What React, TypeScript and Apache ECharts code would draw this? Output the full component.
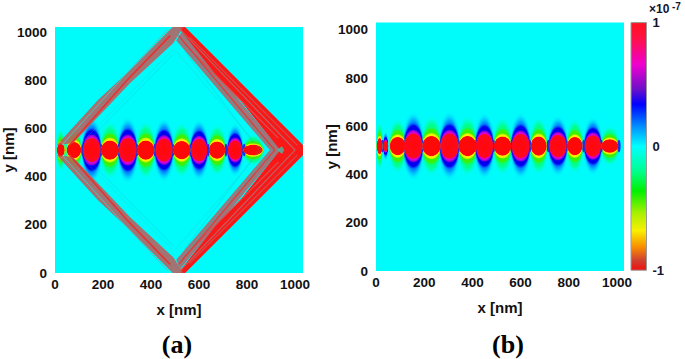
import React, { useEffect, useRef } from "react";
import * as echarts from "echarts";

const FONT = "'Liberation Sans', Arial, sans-serif";
const SERIF = "'Liberation Serif', 'Times New Roman', serif";
const CYAN = "#00fbfb";

const xTicks = [0, 200, 400, 600, 800, 1000];
const yTicks = [0, 200, 400, 600, 800, 1000];
const colorbarTicks = [-1, 0, 1];

// Colour bar stops, top (+1) to bottom (-1)
const colorbarStops: [number, string][] = [
  [0, "#ff1020"], [0.06, "#ff1040"], [0.17, "#f000d0"], [0.27, "#6a10c8"], [0.33, "#0000ff"],
  [0.42, "#0090ff"], [0.5, "#00ffff"], [0.6, "#00ff90"], [0.68, "#00f000"], [0.77, "#a8f000"],
  [0.84, "#f8f000"], [0.905, "#f89000"], [0.96, "#d04030"], [1, "#ee1010"],
];

// Lobes along the line: x [nm], half width [nm], half height [nm], kind (1 blue/magenta, 0 green/yellow)
const lobeAX = [24, 79, 153, 229, 303, 378, 454, 528, 600, 675, 750, 825, 940];
const lobeARx = [16, 30, 37, 37, 37, 36, 36, 36, 34, 34, 30, 40, 8];
const lobeARy = [30, 34, 50, 40, 50, 40, 48, 38, 46, 36, 40, 22, 8];
const lobeAKind = [0, 0, 1, 0, 1, 0, 1, 0, 1, 0, 1, 0, 0];
const lobeACentre = 510;
const gapAX = [116, 191, 266, 341, 416, 491, 564, 638, 712, 788];

const lobeBX = [15, 40, 90, 155, 230, 305, 380, 450, 525, 600, 675, 755, 825, 900, 970];
const lobeBRx = [12, 10, 33, 38, 38, 38, 37, 36, 36, 37, 33, 36, 32, 34, 35];
const lobeBRy = [34, 22, 38, 52, 42, 52, 42, 50, 40, 50, 40, 46, 38, 44, 28];
const lobeBKind = [0, 1, 0, 1, 0, 1, 0, 1, 0, 1, 0, 1, 0, 1, 0];
const lobeBCentre = 518;
const gapBX = [27, 122, 192, 268, 343, 415, 488, 563, 638, 715, 790, 862, 935, 1008];

// Diamond wavefront bands in panel (a): polygons of [x, y] in nm, with fill
const greyChevron: number[][] = [[505, 965], [895, 510], [505, 55], [522, 18], [940, 510], [529, 1002]];
const redChevron: number[][] = [
  [521, 1021], [542, 1021], [1033, 531], [1033, 489], [542, 0], [521, 0], [529, 20], [675, 203],
  [771, 302], [938, 510], [771, 718], [675, 817], [529, 1000],
];
const leftUpperBand: number[][] = [[8, 531], [179, 718], [312, 842], [490, 1021], [535, 1021], [492, 954], [312, 788], [246, 718], [75, 539]];
const leftLowerBand: number[][] = [[8, 489], [179, 302], [312, 178], [490, 0], [535, 0], [492, 66], [312, 232], [246, 302], [75, 481]];
const chevronTip: number[][] = [[925, 510], [945, 526], [955, 510], [945, 494]];

const bandPolygons = [greyChevron, redChevron, leftUpperBand, leftLowerBand, chevronTip];
const bandColors = ["rgba(190,90,95,0.8)", "#f81818", "rgba(190,90,90,0.85)", "rgba(190,90,90,0.85)", "rgba(70,190,170,0.8)"];

// Thin stripes: polyline, colour, width
const stripeLines: number[][][] = [
  [[60, 530], [300, 800], [480, 985]], [[60, 490], [300, 220], [480, 35]],
  [[30, 532], [290, 820], [470, 1010]], [[30, 488], [290, 200], [470, 10]],
  [[520, 1012], [1000, 510], [520, 8]], [[530, 960], [930, 560]], [[530, 60], [930, 460]],
  [[560, 980], [1010, 530]], [[560, 40], [1010, 490]],
  [[120, 530], [490, 905]], [[120, 490], [490, 115]], [[540, 920], [850, 510], [540, 100]],
  [[100, 530], [490, 925]], [[100, 490], [490, 95]], [[500, 925], [860, 510], [500, 95]],
  [[515, 985], [915, 510], [515, 35]], [[515, 975], [905, 510], [515, 45]],
];
const stripeColors = ["#e83030", "#e83030", "#5fb8b8", "#5fb8b8", "#c06060", "#d85050", "#d85050", "#d84848", "#d84848", "rgba(0,170,180,0.2)", "rgba(0,170,180,0.2)", "rgba(0,170,170,0.22)", "rgba(40,190,190,0.22)", "rgba(40,190,190,0.22)", "rgba(40,190,190,0.25)", "#d84040", "rgba(60,170,170,0.5)"];
const stripeWidths = [1.6, 1.6, 1, 1, 1.2, 1.2, 1.2, 1.2, 1.2, 1, 1, 1, 1, 1, 1, 1.4, 1];

type Layer = { sx: number; sy: number; stops: [number, string][] };
const alpha0 = "rgba(0,255,255,0)";
const kindLayers: Layer[][] = [
  [
    { sx: 1.28, sy: 3.1, stops: [[0, "#00ff80"], [0.7, "#00ff90"], [1, alpha0]] },
    { sx: 1.15, sy: 2.0, stops: [[0, "#20f000"], [0.8, "#40f000"], [1, "rgba(0,255,120,0)"]] },
    { sx: 1.05, sy: 1.3, stops: [[0, "#f8f000"], [0.88, "#f8f000"], [1, "rgba(160,240,0,0.9)"]] },
    { sx: 1, sy: 1, stops: [[0, "#ff0808"], [0.97, "#ff0808"], [1, "#ff8000"]] },
  ],
  [
    { sx: 1.28, sy: 2.8, stops: [[0, "#0070ff"], [0.7, "#0090ff"], [1, alpha0]] },
    { sx: 1.16, sy: 1.9, stops: [[0, "#0000f0"], [0.85, "#0000f0"], [1, "rgba(0,60,255,0)"]] },
    { sx: 1.05, sy: 1.3, stops: [[0, "#e000d8"], [0.85, "#d800d8"], [1, "rgba(100,0,220,0.9)"]] },
    { sx: 1, sy: 1, stops: [[0, "#ff0808"], [1, "#ff0820"]] },
  ],
];

function lobeLayer(grid: number, xs: number[], rxs: number[], rys: number[], kinds: number[], centre: number, layerIdx: number) {
  return {
    type: "custom",
    xAxisIndex: grid,
    yAxisIndex: grid,
    clip: true,
    silent: true,
    data: xs.map((x, i) => [x, centre, rxs[i], rys[i], kinds[i]]),
    renderItem: (_p: any, api: any) => {
      const c = api.coord([api.value(0), api.value(1)]);
      const s = api.size([api.value(2), api.value(3)]);
      const l = kindLayers[api.value(4)][layerIdx];
      return {
        type: "ellipse",
        shape: { cx: c[0], cy: c[1], rx: s[0] * l.sx, ry: s[1] * l.sy },
        style: {
          fill: new echarts.graphic.RadialGradient(0.5, 0.5, 0.5, l.stops.map(([offset, color]) => ({ offset, color }))),
        },
      };
    },
  };
}

function gapSeries(grid: number, xs: number[], centre: number) {
  return {
    type: "custom",
    xAxisIndex: grid,
    yAxisIndex: grid,
    clip: true,
    silent: true,
    data: xs.map((x) => [x, centre, 7, 26]),
    renderItem: (_p: any, api: any) => {
      const c = api.coord([api.value(0), api.value(1)]);
      const s = api.size([api.value(2), api.value(3)]);
      return {
        type: "ellipse",
        shape: { cx: c[0], cy: c[1], rx: s[0], ry: s[1] },
        style: { fill: "#1830e8" },
      };
    },
  };
}

function lobeSeries(grid: number, xs: number[], rxs: number[], rys: number[], kinds: number[], centre: number, gaps: number[]) {
  return [
    lobeLayer(grid, xs, rxs, rys, kinds, centre, 0),
    lobeLayer(grid, xs, rxs, rys, kinds, centre, 1),
    lobeLayer(grid, xs, rxs, rys, kinds, centre, 2),
    gapSeries(grid, gaps, centre),
    lobeLayer(grid, xs, rxs, rys, kinds, centre, 3),
  ];
}

const axisBase = {
  axisLine: { show: false },
  axisTick: { show: false },
  splitLine: { show: false },
};
const labelBase = { color: "#111", fontFamily: FONT, fontWeight: "bold" as const, fontSize: 13.5 };
const plain = (v: number) => String(v);

function makeOption() {
  const panels = [
    { left: 55, width: 248, top: 27, height: 246, xMax: 1033, yMax: 1021, yGap: 39 },
    { left: 376, width: 248, top: 22.6, height: 248.4, xMax: 1029, yMax: 1030, yGap: 37 },
  ];
  const grid: any[] = panels.map((p) => ({
    left: p.left, top: p.top, width: p.width, height: p.height, show: true, backgroundColor: CYAN, borderWidth: 0,
    outerBoundsMode: "none", containLabel: false,
  }));
  grid.push({ left: 631, top: 22.6, width: 15.5, height: 247.6, show: false, outerBoundsMode: "none", containLabel: false });

  const xAxis: any[] = panels.map((p, i) => ({
    ...axisBase, type: "value", gridIndex: i, min: 0, max: p.xMax, interval: xTicks[1] - xTicks[0],
    axisLabel: { ...labelBase, margin: 4, showMaxLabel: false, showMinLabel: true, formatter: plain },
    name: "x [nm]", nameLocation: "middle", nameGap: 29,
    nameTextStyle: { ...labelBase, fontSize: 15 },
  }));
  xAxis.push({ type: "value", gridIndex: 2, min: 0, max: 1, show: false });

  const yAxis: any[] = panels.map((p, i) => ({
    ...axisBase, type: "value", gridIndex: i, min: 0, max: p.yMax, interval: yTicks[1] - yTicks[0],
    axisLabel: { ...labelBase, margin: 8, showMaxLabel: false, showMinLabel: true, formatter: plain },
    name: "y [nm]", nameLocation: "middle", nameGap: p.yGap, nameRotate: 90, nameMoveOverlap: false,
    nameTextStyle: { ...labelBase, fontSize: 15 },
  }));
  yAxis.push({
    ...axisBase, type: "value", gridIndex: 2, min: colorbarTicks[0], max: colorbarTicks[2], interval: 1, position: "right",
    axisLabel: { ...labelBase, margin: 6, color: "#14142e", fontSize: 13, formatter: plain },
  });

  const series: any[] = [
    ...lobeSeries(0, lobeAX, lobeARx, lobeARy, lobeAKind, lobeACentre, gapAX),
    {
      type: "custom", xAxisIndex: 0, yAxisIndex: 0, clip: true, silent: true,
      data: bandPolygons.map((b, i) => [b[0][0], b[0][1], i]),
      renderItem: (_p: any, api: any) => {
        const i = api.value(2);
        return {
          type: "polygon",
          shape: { points: bandPolygons[i].map((pt) => api.coord(pt)) },
          style: { fill: bandColors[i] },
        };
      },
    },
    {
      type: "custom", xAxisIndex: 0, yAxisIndex: 0, clip: true, silent: true,
      data: stripeLines.map((l, i) => [l[0][0], l[0][1], i]),
      renderItem: (_p: any, api: any) => {
        const i = api.value(2);
        return {
          type: "polyline",
          shape: { points: stripeLines[i].map((pt) => api.coord(pt)) },
          style: { stroke: stripeColors[i], lineWidth: stripeWidths[i], fill: "none" },
        };
      },
    },
    ...lobeSeries(1, lobeBX, lobeBRx, lobeBRy, lobeBKind, lobeBCentre, gapBX),
    {
      type: "custom", xAxisIndex: 2, yAxisIndex: 2, silent: true,
      data: [[0, 1, 1, -1]],
      renderItem: (_p: any, api: any) => {
        const a = api.coord([api.value(0), api.value(1)]);
        const b = api.coord([api.value(2), api.value(3)]);
        return {
          type: "rect",
          shape: { x: a[0], y: a[1], width: b[0] - a[0], height: b[1] - a[1] },
          style: {
            fill: new echarts.graphic.LinearGradient(0, 0, 0, 1, colorbarStops.map(([offset, color]) => ({ offset, color }))),
            stroke: "#999", lineWidth: 1,
          },
        };
      },
    },
  ];

  const graphic: any[] = [
    { type: "text", x: 177, y: 344, style: { text: "(a)", font: `bold 26px ${SERIF}`, fill: "#000", align: "center", verticalAlign: "middle" } },
    { type: "text", x: 508, y: 344, style: { text: "(b)", font: `bold 26px ${SERIF}`, fill: "#000", align: "center", verticalAlign: "middle" } },
    { type: "text", x: 649, y: 9, style: { text: "×10", font: `bold 12px ${FONT}`, fill: "#14142e", align: "left", verticalAlign: "middle" } },
    { type: "text", x: 672, y: 6, style: { text: "-7", font: `bold 10px ${FONT}`, fill: "#14142e", align: "left", verticalAlign: "middle" } },
  ];

  return { animation: false, backgroundColor: "#fff", grid, xAxis, yAxis, series, graphic };
}

export default function App() {
  const ref = useRef<HTMLDivElement>(null);
  useEffect(() => {
    const chart = echarts.init(ref.current!, undefined, { renderer: "svg" });
    chart.setOption(makeOption());
    return () => chart.dispose();
  }, []);
  return <div ref={ref} style={{ position: "fixed", left: 0, top: 0, width: 685, height: 359 }} />;
}
